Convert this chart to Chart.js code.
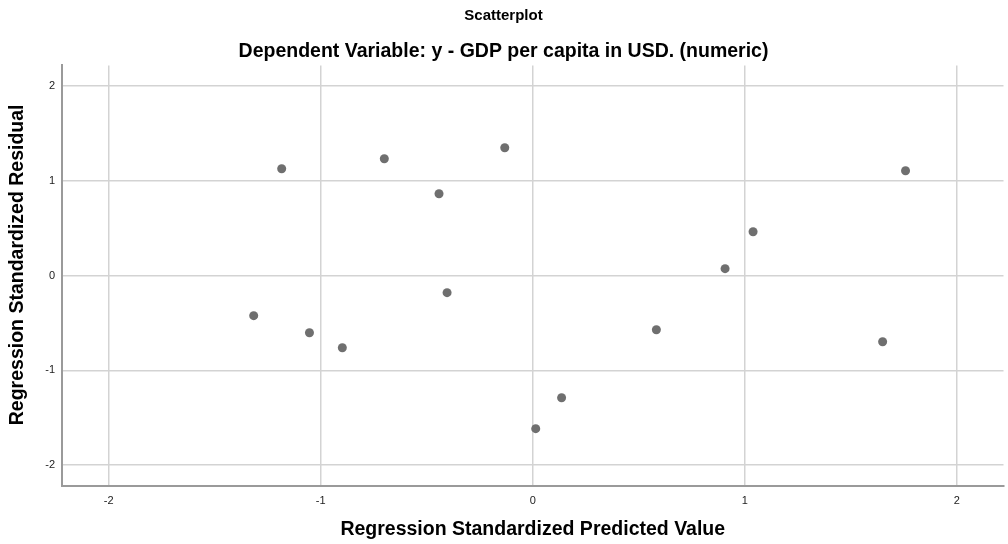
<!DOCTYPE html>
<html>
<head>
<meta charset="utf-8">
<script src="https://cdn.jsdelivr.net/npm/chart.js@4/dist/chart.umd.min.js"></script>
<style>
  body { margin: 0; background: #fff; }
</style>
</head>
<body>
<canvas id="chart" width="1008" height="544"></canvas>
<script>
const predicted = [-1.316, -1.184, -1.053, -0.898, -0.700, -0.442, -0.404, -0.132, 0.014, 0.136, 0.583, 0.907, 1.039, 1.650, 1.758];
const residual = [-0.422, 1.129, -0.602, -0.760, 1.235, 0.865, -0.179, 1.351, -1.615, -1.288, -0.570, 0.074, 0.464, -0.697, 1.108];
const tickValues = [-2, -1, 0, 1, 2];

const points = predicted.map((x, i) => ({ x: x, y: residual[i] }));

const font = 'Arial, "Liberation Sans", sans-serif';
const gridColor = '#d3d3d3';
const axisColor = '#9a9a9a';
const bigFont = { family: font, size: 19.5, weight: 'bold', lineHeight: 1.2 };

new Chart(document.getElementById('chart'), {
    type: 'scatter',
    data: {
        datasets: [{
            data: points,
            backgroundColor: '#6f6f6f',
            borderWidth: 0,
            pointRadius: 4.5,
            pointHoverRadius: 4.5
        }]
    },
    options: {
        responsive: false,
        animation: false,
        layout: { padding: { left: 0, right: 1, top: 0, bottom: 0 } },
        plugins: {
            legend: { display: false },
            tooltip: { enabled: false },
            title: {
                display: true,
                text: 'Scatterplot',
                color: '#000',
                font: { family: font, size: 15, weight: 'bold', lineHeight: 1.2 },
                padding: { top: 7, bottom: 15 }
            },
            subtitle: {
                display: true,
                text: 'Dependent Variable: y - GDP per capita in USD. (numeric)',
                color: '#000',
                font: bigFont,
                padding: { top: 0, bottom: 2 }
            }
        },
        scales: {
            x: {
                type: 'linear',
                min: -2.22,
                max: 2.22,
                afterFit: s => { s.height = 58; },
                afterBuildTicks: s => { s.ticks = tickValues.map(v => ({ value: v })); },
                ticks: { color: '#222', font: { family: font, size: 11 }, padding: 8, includeBounds: false },
                grid: { color: gridColor, lineWidth: 1.5, drawTicks: false },
                border: { color: axisColor, width: 2 },
                title: {
                    display: true,
                    text: 'Regression Standardized Predicted Value',
                    color: '#000',
                    font: bigFont,
                    padding: { top: 4, bottom: 3 }
                }
            },
            y: {
                type: 'linear',
                min: -2.22,
                max: 2.22,
                afterFit: s => { s.width = 62; },
                afterBuildTicks: s => { s.ticks = tickValues.map(v => ({ value: v })); },
                ticks: { color: '#222', font: { family: font, size: 11 }, padding: 7, includeBounds: false },
                grid: { color: gridColor, lineWidth: 1.5, drawTicks: false },
                border: { color: axisColor, width: 2 },
                title: {
                    display: true,
                    // leading spaces nudge the title up a little, like the original
                    text: '    Regression Standardized Residual',
                    color: '#000',
                    font: bigFont,
                    padding: { top: 6, bottom: 4 }
                }
            }
        }
    }
});
</script>
</body>
</html>
